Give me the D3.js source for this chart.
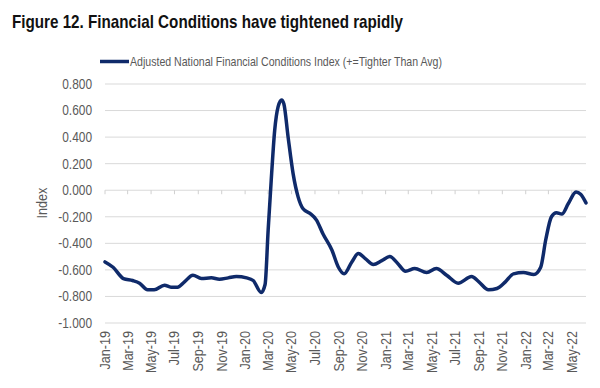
<!DOCTYPE html>
<html>
<head>
<meta charset="utf-8">
<script src="https://cdn.jsdelivr.net/npm/d3@7"></script>
<style>
  body { margin: 0; background: #fff; }
  text { font-family: "Liberation Sans Narrow", "Arial Narrow", "Liberation Sans", sans-serif; }
</style>
</head>
<body>
<script>
// data (roughly two points a month)
const dates = [
  "2019-01-01", "2019-01-22", "2019-02-18", "2019-03-14", "2019-04-01", "2019-04-22",
  "2019-05-09", "2019-06-05", "2019-06-22", "2019-07-09", "2019-07-27", "2019-08-18",
  "2019-09-09", "2019-10-05", "2019-10-26", "2019-11-18", "2019-12-09", "2020-01-05",
  "2020-01-22", "2020-02-12", "2020-02-22", "2020-03-01", "2020-03-09", "2020-03-18",
  "2020-03-27", "2020-04-05", "2020-04-11", "2020-04-22", "2020-05-05", "2020-05-18",
  "2020-05-31", "2020-06-18", "2020-07-05", "2020-07-22", "2020-08-14", "2020-08-31",
  "2020-09-15", "2020-10-05", "2020-10-22", "2020-11-09", "2020-11-30", "2020-12-22",
  "2021-01-12", "2021-02-01", "2021-02-22", "2021-03-18", "2021-04-18", "2021-05-13",
  "2021-06-09", "2021-07-09", "2021-08-13", "2021-09-01", "2021-09-26", "2021-10-18",
  "2021-11-09", "2021-11-30", "2021-12-26", "2022-01-22", "2022-02-09", "2022-02-22",
  "2022-03-09", "2022-03-22", "2022-04-05", "2022-04-22", "2022-05-12", "2022-05-24",
  "2022-06-07"
];
const anfci = [
  -0.54, -0.58, -0.665, -0.68, -0.70, -0.75,
  -0.75, -0.715, -0.73, -0.73, -0.69, -0.64,
  -0.665, -0.66, -0.67, -0.66, -0.65, -0.66,
  -0.68, -0.77, -0.71, -0.30, 0.075, 0.45,
  0.63, 0.68, 0.65, 0.40, 0.125, -0.05,
  -0.14, -0.175, -0.225, -0.33, -0.45, -0.58,
  -0.63, -0.54, -0.477, -0.515, -0.56, -0.53,
  -0.50, -0.55, -0.61, -0.59, -0.62, -0.59,
  -0.64, -0.70, -0.65, -0.69, -0.75, -0.74,
  -0.69, -0.63, -0.62, -0.635, -0.58, -0.375,
  -0.20, -0.17, -0.18, -0.10, -0.013, -0.03,
  -0.095
];
const yTicks = [-1.0, -0.8, -0.6, -0.4, -0.2, 0.0, 0.2, 0.4, 0.6, 0.8];
const seriesName = "Adjusted National Financial Conditions Index (+=Tighter Than Avg)";
const title = "Figure 12. Financial Conditions have tightened rapidly";

const width = 600, height = 388;
const parse = d3.utcParse("%Y-%m-%d");
const data = dates.map((d, i) => ({ date: parse(d), value: anfci[i] }));

const svg = d3.select("body")
  .append("svg")
  .attr("width", width)
  .attr("height", height);

const x = d3.scaleUtc()
  .domain([parse("2019-01-01"), parse("2022-06-07")])
  .range([105, 586]);

const y = d3.scaleLinear()
  .domain([-1, 0.8])
  .range([323, 84]);

// title (narrow face is not installed, so squeeze it)
svg.append("text")
  .attr("x", 12)
  .attr("y", 28)
  .attr("font-size", 19)
  .attr("font-weight", "bold")
  .attr("fill", "#111")
  .attr("textLength", 391)
  .attr("lengthAdjust", "spacingAndGlyphs")
  .text(title);

// legend
svg.append("line")
  .attr("x1", 100).attr("x2", 129)
  .attr("y1", 61.5).attr("y2", 61.5)
  .attr("stroke", "#0f2a6a")
  .attr("stroke-width", 3.5);
svg.append("text")
  .attr("x", 130)
  .attr("y", 66)
  .attr("font-size", 13)
  .attr("fill", "#595959")
  .attr("textLength", 312)
  .attr("lengthAdjust", "spacingAndGlyphs")
  .text(seriesName);

// gridlines
svg.append("g")
  .selectAll("line")
  .data(yTicks)
  .enter()
  .append("line")
  .attr("x1", 105).attr("x2", 586)
  .attr("y1", d => y(d)).attr("y2", d => y(d))
  .attr("stroke", "#d9d9d9")
  .attr("stroke-width", 1);

// y tick labels
svg.append("g")
  .selectAll("text")
  .data(yTicks)
  .enter()
  .append("text")
  .attr("transform", d => "translate(92," + y(d) + ") scale(0.85,1)")
  .attr("dy", "0.35em")
  .attr("text-anchor", "end")
  .attr("font-size", 14)
  .attr("fill", "#595959")
  .text(d => d3.format(".3f")(d).replace("−", "-"));

svg.append("text")
  .attr("transform", "translate(47,203) rotate(-90) scale(0.9,1)")
  .attr("text-anchor", "middle")
  .attr("font-size", 14)
  .attr("fill", "#595959")
  .text("Index");

// category axis sits on the zero line, small ticks below it
const monthTicks = d3.utcMonth.every(2).range(parse("2019-01-01"), parse("2022-06-02"));
svg.append("g")
  .selectAll("line")
  .data(monthTicks)
  .enter()
  .append("line")
  .attr("x1", d => x(d)).attr("x2", d => x(d))
  .attr("y1", y(0)).attr("y2", y(0) + 4)
  .attr("stroke", "#d0d0d0");

svg.append("g")
  .selectAll("text")
  .data(monthTicks)
  .enter()
  .append("text")
  .attr("transform", d => "translate(" + x(d) + ",331) rotate(-90) scale(0.9,1)")
  .attr("dy", "0.35em")
  .attr("text-anchor", "end")
  .attr("font-size", 14)
  .attr("fill", "#595959")
  .text(d => d3.utcFormat("%b-%y")(d));

// the series
const line = d3.line()
  .x(d => x(d.date))
  .y(d => y(d.value))
  .curve(d3.curveMonotoneX);

svg.append("path")
  .datum(data)
  .attr("fill", "none")
  .attr("stroke", "#0f2a6a")
  .attr("stroke-width", 3.5)
  .attr("stroke-linejoin", "round")
  .attr("stroke-linecap", "round")
  .attr("d", line);
</script>
</body>
</html>
